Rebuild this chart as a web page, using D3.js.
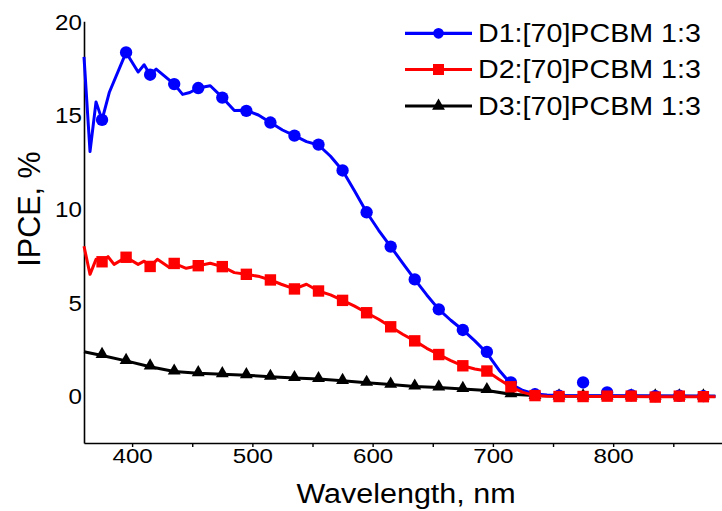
<!DOCTYPE html>
<html>
<head>
<meta charset="utf-8">
<script src="https://cdnjs.cloudflare.com/ajax/libs/d3/7.8.5/d3.min.js"></script>
<style>
body { margin: 0; background: #fff; }
text { font-family: Arial, "Liberation Sans", sans-serif; fill: #000; }
</style>
</head>
<body>
<div id="chart"></div>
<script>
//DATA
var seriesNames = ["D1:[70]PCBM 1:3", "D2:[70]PCBM 1:3", "D3:[70]PCBM 1:3"];
var seriesColors = ["#0000ff", "#ff0000", "#000000"];

var markerWl = [375, 395, 415, 435, 455, 475, 495, 515, 535, 555, 575, 595, 615,
  635, 655, 675, 695, 715, 735, 755, 775, 795, 815, 835, 855, 875];

var d1Markers = [14.74, 18.34, 17.15, 16.65, 16.44, 15.93, 15.22, 14.6, 13.9, 13.42, 12.04, 9.81, 7.98,
  6.23, 4.63, 3.53, 2.36, 0.73, 0.1, 0.02, 0.73, 0.2, 0.05, 0.0, 0.02, 0.0];
var d2Markers = [7.17, 7.41, 6.92, 7.08, 6.96, 6.91, 6.5, 6.2, 5.72, 5.61, 5.11, 4.45, 3.7,
  2.95, 2.22, 1.62, 1.34, 0.5, 0.03, -0.02, -0.02, 0.0, 0.0, -0.05, 0.0, -0.03];
var d3Markers = [2.24, 1.92, 1.62, 1.35, 1.26, 1.21, 1.16, 1.07, 1.0, 0.95, 0.85, 0.75, 0.65,
  0.55, 0.5, 0.42, 0.36, 0.14, 0.05, 0.02, 0.02, 0.02, 0.02, 0.02, 0.02, 0.02];

var d1Line = [[360, 18.1], [365, 13.05], [370, 15.7], [375, 14.74], [381, 16.2], [395, 18.34],
  [405, 17.29], [410, 17.68], [415, 17.15], [420, 17.45], [435, 16.65], [442, 16.1], [448, 16.2],
  [455, 16.44], [465, 16.56], [475, 15.94], [485, 15.24], [495, 15.25], [505, 15.0], [515, 14.6],
  [525, 14.2], [535, 13.9], [545, 13.58], [555, 13.4], [565, 12.8], [575, 12.04], [585, 10.95],
  [595, 9.81], [605, 8.85], [615, 7.98], [625, 7.1], [635, 6.23], [645, 5.4], [655, 4.63],
  [665, 4.05], [675, 3.53], [685, 2.95], [695, 2.3], [705, 1.4], [715, 0.65], [725, 0.3],
  [735, 0.12], [745, 0.06], [755, 0.03], [775, 0.02], [800, 0.02], [840, 0.01], [885, 0.0]];
var d2Line = [[360, 8.0], [365, 6.5], [370, 7.3], [375, 7.17], [380, 7.44], [385, 7.03], [395, 7.41],
  [405, 7.03], [410, 7.2], [415, 6.92], [421, 7.3], [431, 6.87], [435, 7.08], [445, 6.82],
  [455, 6.96], [465, 7.09], [475, 6.91], [485, 6.59], [495, 6.5], [506, 6.38], [515, 6.2],
  [524, 5.97], [535, 5.72], [545, 5.97], [555, 5.61], [565, 5.4], [575, 5.11], [585, 4.8],
  [595, 4.45], [605, 4.1], [615, 3.7], [625, 3.3], [635, 2.95], [645, 2.55], [655, 2.22],
  [665, 1.9], [675, 1.62], [685, 1.45], [695, 1.34], [705, 0.9], [715, 0.5], [725, 0.2],
  [735, 0.03], [745, 0.0], [800, -0.02], [840, -0.03], [885, -0.03]];
var d3Line = [[360, 2.37], [375, 2.17], [395, 1.88], [415, 1.57], [435, 1.32], [455, 1.22],
  [475, 1.17], [495, 1.12], [515, 1.04], [535, 0.97], [555, 0.91], [575, 0.82], [595, 0.72],
  [615, 0.62], [635, 0.52], [655, 0.46], [675, 0.38], [695, 0.3], [715, 0.1], [735, 0.03],
  [755, 0.01], [885, 0.0]];

var xTicks = [400, 450, 500, 550, 600, 650, 700, 750, 800, 850];
var yTicks = [0, 5, 10, 15, 20];

var seriesLines = [d1Line, d2Line, d3Line];
var seriesMarkers = [d1Markers, d2Markers, d3Markers];

//SVG
var svg = d3.select("#chart").append("svg")
  .attr("width", 722)
  .attr("height", 511);

//SCALES
var xScale = d3.scaleLinear().domain([360, 890.5]).range([84, 722]);
var yScale = d3.scaleLinear().domain([-2.5, 20]).range([443, 21.3]);

//MARKER SHAPES
var plotSymbols = [
  d3.symbol().type(d3.symbolCircle).size(120),
  d3.symbol().type(d3.symbolSquare).size(130),
  d3.symbol().type(d3.symbolTriangle).size(72)
];
var legendSymbols = [
  d3.symbol().type(d3.symbolCircle).size(90),
  d3.symbol().type(d3.symbolSquare).size(121),
  d3.symbol().type(d3.symbolTriangle).size(72)
];

//AXES
var xAxis = d3.axisBottom(xScale)
  .tickValues(xTicks)
  .tickSize(4)
  .tickSizeOuter(0)
  .tickFormat(function(d) { return d % 100 === 0 ? d : ""; });

var yAxis = d3.axisLeft(yScale)
  .tickValues(yTicks)
  .tickSize(0)
  .tickSizeOuter(0);

var gx = svg.append("g")
  .attr("transform", "translate(0, 443)")
  .call(xAxis);
gx.select(".domain").attr("stroke", "#000").attr("stroke-width", 1.6);
gx.selectAll(".tick line").attr("stroke", "#000").attr("stroke-width", 1.4);
gx.selectAll(".tick text")
  .attr("y", 20.3)
  .attr("dy", 0)
  .attr("font-size", 21)
  .attr("font-family", "Arial, 'Liberation Sans', sans-serif")
  .attr("transform", "scale(1.15,1)");

var gy = svg.append("g")
  .attr("transform", "translate(84, 0)")
  .call(yAxis);
gy.select(".domain").attr("stroke", "#000").attr("stroke-width", 1.6);
gy.selectAll(".tick text")
  .attr("x", -2 / 1.13)
  .attr("dy", "0.36em")
  .attr("font-size", 21.4)
  .attr("font-family", "Arial, 'Liberation Sans', sans-serif")
  .attr("transform", "scale(1.13,1)");

//AXIS TITLES
svg.append("text")
  .attr("transform", "translate(406, 503.3) scale(1.13,1)")
  .attr("text-anchor", "middle")
  .attr("font-size", 27)
  .text("Wavelength, nm");

svg.append("text")
  .attr("transform", "translate(40, 209) rotate(-90)")
  .attr("text-anchor", "middle")
  .attr("font-size", 30.5)
  .text("IPCE, %");

//SERIES (black first so red ends up on top at the zero line)
var line = d3.line()
  .x(function(d) { return xScale(d[0]); })
  .y(function(d) { return yScale(d[1]); });

[2, 0, 1].forEach(function(i) {
  svg.append("path")
    .datum(seriesLines[i])
    .attr("d", line)
    .attr("fill", "none")
    .attr("stroke", seriesColors[i])
    .attr("stroke-width", 3)
    .attr("stroke-linejoin", "round");

  svg.append("g").selectAll("path")
    .data(seriesMarkers[i])
    .enter().append("path")
    .attr("d", plotSymbols[i])
    .attr("transform", function(d, j) {
      return "translate(" + xScale(markerWl[j]) + "," + yScale(d) + ")";
    })
    .attr("fill", seriesColors[i]);
});

//LEGEND
var legendY = [33.3, 69.5, 106];
var legendBase = [41.7, 78.3, 115];

var legend = svg.append("g");
seriesNames.forEach(function(name, i) {
  legend.append("line")
    .attr("x1", 405).attr("x2", 472)
    .attr("y1", legendY[i]).attr("y2", legendY[i])
    .attr("stroke", seriesColors[i])
    .attr("stroke-width", 3.2);
  legend.append("path")
    .attr("d", legendSymbols[i])
    .attr("transform", "translate(438.5," + legendY[i] + ")")
    .attr("fill", seriesColors[i]);
  legend.append("text")
    .attr("transform", "translate(478," + legendBase[i] + ") scale(1.12,1)")
    .attr("font-size", 25.6)
    .text(name);
});
</script>
</body>
</html>
